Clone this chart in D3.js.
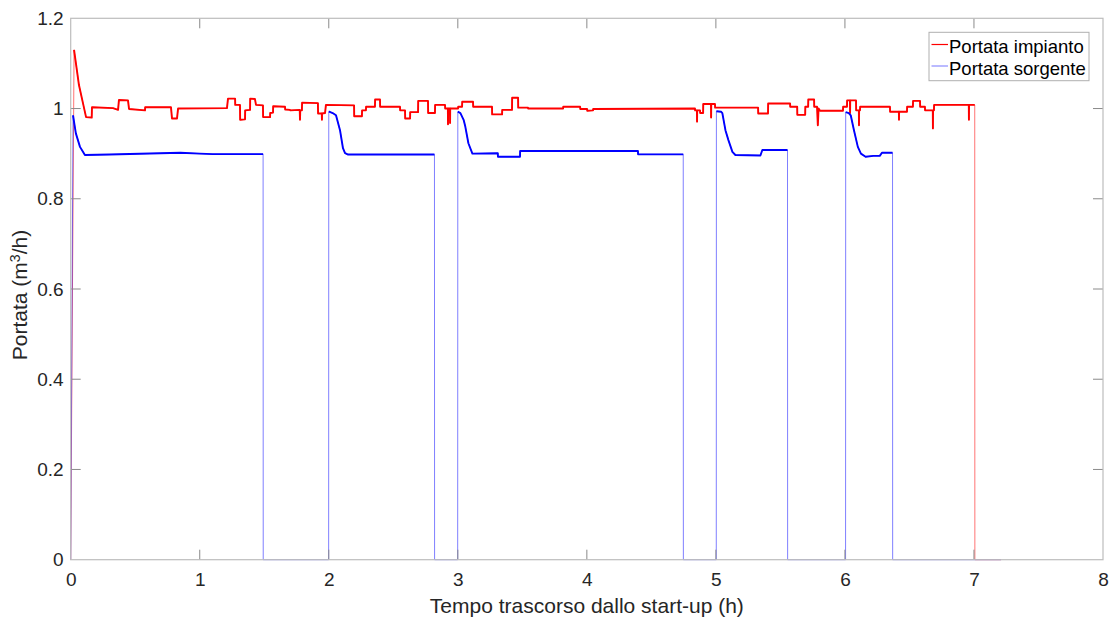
<!DOCTYPE html>
<html><head><meta charset="utf-8">
<script src="https://cdn.jsdelivr.net/npm/d3@7"></script>
<style>body{margin:0;background:#fff;} svg{display:block;font-family:"Liberation Sans",Arial,sans-serif;}</style>
</head><body>
<svg id="chart" width="1114" height="622"></svg>
<script>
// ---- data : [time (h), flow (m3/h)] ----
const xTicks = [0,1,2,3,4,5,6,7,8];
const yTicks = [0,0.2,0.4,0.6,0.8,1,1.2];
const yTickLabels = ["0","0.2","0.4","0.6","0.8","1","1.2"];
const seriesNames = ["Portata impianto","Portata sorgente"];

const impianto = [[0,0],[0.026,1.130],[0.064,1.052],[0.095,1.012],[0.119,0.981],[0.163,0.980],[0.165,1.003],[0.328,1.001],[0.367,0.997],[0.374,1.019],[0.444,1.018],[0.452,0.999],[0.576,0.996],[0.577,1.003],[0.777,1.003],[0.785,0.978],[0.824,0.978],[0.832,1.000],[1.211,1.001],[1.219,1.022],[1.274,1.022],[1.275,1.008],[1.312,1.008],[1.313,0.975],[1.351,0.976],[1.352,0.996],[1.390,0.997],[1.391,1.022],[1.428,1.021],[1.436,1.008],[1.490,1.007],[1.491,0.981],[1.545,0.981],[1.546,0.990],[1.568,0.991],[1.569,1.005],[1.661,1.004],[1.662,0.998],[1.700,0.997],[1.701,0.996],[1.775,0.997],[1.777,0.975],[1.779,0.996],[1.792,0.996],[1.793,1.013],[1.916,1.012],[1.917,0.989],[1.946,0.989],[1.947,0.975],[1.948,0.989],[1.971,0.990],[1.978,1.008],[2.196,1.007],[2.197,0.983],[2.257,0.983],[2.258,0.996],[2.288,0.996],[2.289,1.004],[2.358,1.004],[2.359,1.020],[2.397,1.020],[2.398,1.004],[2.552,1.004],[2.553,0.996],[2.591,0.996],[2.592,0.978],[2.630,0.978],[2.631,0.992],[2.692,0.992],[2.693,1.017],[2.769,1.017],[2.770,0.990],[2.823,0.990],[2.824,1.008],[2.901,1.008],[2.902,1.000],[2.923,1.000],[2.924,0.965],[2.925,1.000],[2.939,1.000],[2.940,0.968],[2.941,1.000],[3.002,1.000],[3.003,1.004],[3.033,1.004],[3.034,1.015],[3.118,1.015],[3.119,1.004],[3.265,1.004],[3.266,0.987],[3.343,0.987],[3.344,0.997],[3.420,0.997],[3.421,1.024],[3.467,1.024],[3.468,1.002],[3.544,1.002],[3.545,1.000],[3.816,1.000],[3.817,1.004],[3.948,1.004],[3.949,0.999],[4.002,0.999],[4.003,0.995],[4.048,0.996],[4.049,0.999],[4.838,1.000],[4.839,0.996],[4.853,0.996],[4.854,0.971],[4.855,0.996],[4.877,0.996],[4.878,0.990],[4.901,0.990],[4.902,1.010],[4.962,1.010],[4.963,0.980],[4.964,1.010],[4.993,1.010],[4.994,1.002],[5.327,1.002],[5.328,0.989],[5.404,0.989],[5.405,1.011],[5.575,1.011],[5.576,1.004],[5.630,1.004],[5.631,0.986],[5.692,0.986],[5.693,1.004],[5.715,1.004],[5.716,1.020],[5.761,1.020],[5.762,1.004],[5.784,1.004],[5.790,0.963],[5.796,1.000],[5.807,0.995],[5.985,0.995],[5.986,1.004],[6.016,1.004],[6.017,1.018],[6.039,1.018],[6.040,0.990],[6.041,1.018],[6.086,1.018],[6.087,0.996],[6.108,0.996],[6.109,0.963],[6.110,0.996],[6.117,0.996],[6.118,1.004],[6.349,1.004],[6.350,0.993],[6.418,0.993],[6.419,0.975],[6.420,0.993],[6.481,0.993],[6.482,1.004],[6.527,1.004],[6.528,1.017],[6.582,1.017],[6.583,1.004],[6.620,1.004],[6.621,0.996],[6.681,0.996],[6.682,0.956],[6.683,0.996],[6.690,0.996],[6.691,1.008],[6.960,1.008],[6.961,0.975],[6.962,1.008],[7.006,1.008],[7.007,0],[7.21,0]];

const sorgente = [[0,0],[0.018,0.985],[0.040,0.945],[0.072,0.915],[0.095,0.904],[0.110,0.897],[0.300,0.898],[0.850,0.902],[1.000,0.900],[1.100,0.899],[1.491,0.899],[1.492,0],[1.999,0],[2.000,0.993],[2.003,0.993],[2.030,0.990],[2.056,0.985],[2.087,0.952],[2.110,0.912],[2.126,0.901],[2.150,0.898],[2.819,0.898],[2.820,0],[2.999,0],[3.000,0.993],[3.020,0.990],[3.045,0.975],[3.058,0.960],[3.082,0.923],[3.113,0.900],[3.310,0.901],[3.311,0.893],[3.482,0.893],[3.483,0.906],[4.396,0.906],[4.397,0.8985],[4.747,0.8985],[4.748,0],[5.003,0],[5.004,0.994],[5.040,0.993],[5.050,0.990],[5.074,0.952],[5.097,0.930],[5.128,0.904],[5.151,0.897],[5.345,0.896],[5.360,0.908],[5.555,0.908],[5.556,0],[6.005,0],[6.006,0.992],[6.030,0.990],[6.045,0.985],[6.070,0.952],[6.100,0.915],[6.124,0.900],[6.160,0.893],[6.220,0.895],[6.270,0.895],[6.287,0.902],[6.369,0.902],[6.370,0],[7.21,0]];

// ---- layout ----
const W = 1114, H = 622;
const m = {left:70.7, right:11, top:18.3, bottom:62.3};
const svg = d3.select("#chart");
const x = d3.scaleLinear().domain([0,8]).range([m.left, W-m.right]);
const y = d3.scaleLinear().domain([0,1.2]).range([H-m.bottom, m.top]);

const axisCol = "#bdbdbd", tickCol = "#8a8a8a", textCol = "#262626";

// data lines
const line = d3.line().x(d=>x(d[0])).y(d=>y(d[1]));
const lineOn = d3.line().defined(d=>d[1]>0.5).x(d=>x(d[0])).y(d=>y(d[1]));
const g = svg.append("g");
g.append("path").datum(impianto).attr("d",line).attr("fill","none").attr("stroke","#ff0000").attr("stroke-width",1).attr("stroke-opacity",0.55);
g.append("path").datum(sorgente).attr("d",line).attr("fill","none").attr("stroke","#0000ff").attr("stroke-width",1).attr("stroke-opacity",0.5);
g.append("path").datum(impianto).attr("d",lineOn).attr("fill","none").attr("stroke","#ff0000").attr("stroke-width",1.9).attr("stroke-linejoin","round");
g.append("path").datum(sorgente).attr("d",lineOn).attr("fill","none").attr("stroke","#0000ff").attr("stroke-width",1.9).attr("stroke-linejoin","round");

// axes
const xb = svg.append("g").attr("transform",`translate(0,${H-m.bottom})`)
  .call(d3.axisBottom(x).tickValues(xTicks).tickSize(0).tickPadding(13).tickFormat(d3.format("d")));
const yl = svg.append("g").attr("transform",`translate(${m.left},0)`)
  .call(d3.axisLeft(y).tickValues(yTicks).tickSize(0).tickPadding(7).tickFormat((d,i)=>yTickLabels[i]));
[xb,yl].forEach(a=>{a.select(".domain").remove(); a.selectAll("text").attr("fill",textCol).style("font-size","19px").style("font-family","'Liberation Sans',Arial,sans-serif");});

// inward ticks on all four sides
const tk = svg.append("g").attr("stroke",tickCol).attr("stroke-width",1);
xTicks.slice(1,-1).forEach(v=>{
  tk.append("line").attr("x1",x(v)).attr("x2",x(v)).attr("y1",y(0)).attr("y2",y(0)-10);
  tk.append("line").attr("x1",x(v)).attr("x2",x(v)).attr("y1",y(1.2)).attr("y2",y(1.2)+10);
});
yTicks.slice(1,-1).forEach(v=>{
  tk.append("line").attr("x1",x(0)).attr("x2",x(0)+10).attr("y1",y(v)).attr("y2",y(v));
  tk.append("line").attr("x1",x(8)).attr("x2",x(8)-10).attr("y1",y(v)).attr("y2",y(v));
});
svg.append("rect").attr("x",x(0)).attr("y",y(1.2)).attr("width",x(8)-x(0)).attr("height",y(0)-y(1.2))
  .attr("fill","none").attr("stroke",axisCol).attr("stroke-width",1.2);

// axis labels
svg.append("text").attr("x",(x(0)+x(8))/2).attr("y",613).attr("text-anchor","middle")
  .attr("fill",textCol).style("font-size","21px").text("Tempo trascorso dallo start-up (h)");
const yt = svg.append("text").attr("transform",`translate(27,${(y(0)+y(1.2))/2+6}) rotate(-90)`).attr("text-anchor","middle")
  .attr("fill",textCol).style("font-size","21px");
yt.append("tspan").text("Portata (m");
yt.append("tspan").attr("dy",-7).style("font-size","14px").text("3");
yt.append("tspan").attr("dy",7).text("/h)");

// legend
const lg = svg.append("g");
lg.append("rect").attr("x",929).attr("y",32.3).attr("width",160).attr("height",48.4).attr("fill","#fff").attr("stroke","#b0b0b0").attr("stroke-width",1);
const legCols = ["#ff0000","#8c8cff"];
seriesNames.forEach((n,i)=>{
  const yy = 44.5 + i*21.5;
  lg.append("line").attr("x1",931.5).attr("x2",948).attr("y1",yy).attr("y2",yy).attr("stroke",legCols[i]).attr("stroke-width",1.2);
  lg.append("text").attr("x",949).attr("y",yy+8.5).attr("fill","#000").style("font-size","18.5px").text(n);
});
</script>
</body></html>
